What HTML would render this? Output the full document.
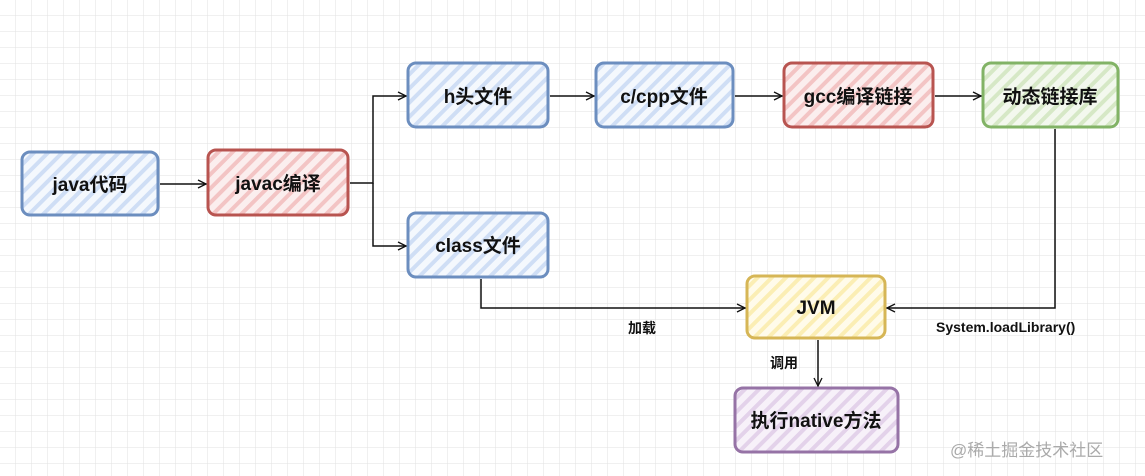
<!DOCTYPE html>
<html><head><meta charset="utf-8"><style>
html,body{margin:0;padding:0;background:#fff}
svg{display:block}
text{font-family:"Liberation Sans","Noto Sans CJK SC",sans-serif;font-weight:bold;fill:#111}
</style></head><body>
<svg width="1145" height="476" viewBox="0 0 1145 476" xmlns="http://www.w3.org/2000/svg">
<defs>
<pattern id="grid" width="16" height="16" patternUnits="userSpaceOnUse"><path d="M16 0V16H0" fill="none" stroke="#e2e2e2" stroke-width="1"/></pattern>
<pattern id="hb" width="10" height="10" patternUnits="userSpaceOnUse" patternTransform="rotate(45)"><rect width="10" height="10" fill="#f4f8fd"/><rect width="4" height="10" fill="#cfdef5"/></pattern>
<pattern id="hr" width="10" height="10" patternUnits="userSpaceOnUse" patternTransform="rotate(45)"><rect width="10" height="10" fill="#fbeeee"/><rect width="4" height="10" fill="#f3c4c4"/></pattern>
<pattern id="hg" width="10" height="10" patternUnits="userSpaceOnUse" patternTransform="rotate(45)"><rect width="10" height="10" fill="#f3f8ee"/><rect width="4" height="10" fill="#d6e8c6"/></pattern>
<pattern id="hy" width="10" height="10" patternUnits="userSpaceOnUse" patternTransform="rotate(45)"><rect width="10" height="10" fill="#fffbea"/><rect width="4" height="10" fill="#fbeeb4"/></pattern>
<pattern id="hp" width="10" height="10" patternUnits="userSpaceOnUse" patternTransform="rotate(45)"><rect width="10" height="10" fill="#f7f1f9"/><rect width="4" height="10" fill="#e3d2ea"/></pattern>
<marker id="ar" markerWidth="10" markerHeight="10" refX="9" refY="5" orient="auto" markerUnits="userSpaceOnUse"><path d="M1 1L9 5L1 9" fill="none" stroke="#111" stroke-width="1.3"/></marker>
</defs>
<rect width="1145" height="476" fill="url(#grid)"/>
<g stroke-width="3">
<rect x="22" y="152" width="136" height="63" rx="8" fill="url(#hb)" stroke="#6c8ebf"/>
<rect x="208" y="150" width="140" height="65" rx="8" fill="url(#hr)" stroke="#b85450"/>
<rect x="408" y="63" width="140" height="64" rx="8" fill="url(#hb)" stroke="#6c8ebf"/>
<rect x="596" y="63" width="137" height="64" rx="8" fill="url(#hb)" stroke="#6c8ebf"/>
<rect x="784" y="63" width="149" height="64" rx="8" fill="url(#hr)" stroke="#b85450"/>
<rect x="983" y="63" width="135" height="64" rx="8" fill="url(#hg)" stroke="#82b366"/>
<rect x="408" y="213" width="140" height="64" rx="8" fill="url(#hb)" stroke="#6c8ebf"/>
<rect x="747" y="276" width="138" height="62" rx="8" fill="url(#hy)" stroke="#d6b656"/>
<rect x="735" y="388" width="163" height="64" rx="8" fill="url(#hp)" stroke="#9673a6"/>
</g>
<g fill="none" stroke="#111" stroke-width="1.5">
<path d="M160 184H206" marker-end="url(#ar)"/>
<path d="M350 183H373V96H406" marker-end="url(#ar)"/>
<path d="M373 183V246H406" marker-end="url(#ar)"/>
<path d="M550 96H594" marker-end="url(#ar)"/>
<path d="M735 96H782" marker-end="url(#ar)"/>
<path d="M935 96H981" marker-end="url(#ar)"/>
<path d="M481 279V308H745" marker-end="url(#ar)"/>
<path d="M1055 129V308H887" marker-end="url(#ar)"/>
<path d="M818 340V386" marker-end="url(#ar)"/>
</g>
<g font-size="19" text-anchor="middle">
<text x="90" y="191">java代码</text>
<text x="278" y="190">javac编译</text>
<text x="478" y="103">h头文件</text>
<text x="664" y="103">c/cpp文件</text>
<text x="858" y="103">gcc编译链接</text>
<text x="1050" y="103">动态链接库</text>
<text x="478" y="252">class文件</text>
<text x="816" y="314">JVM</text>
<text x="816" y="427">执行native方法</text>
</g>
<g font-size="14">
<text x="628" y="333">加载</text>
<text x="936" y="332">System.loadLibrary()</text>
<text x="770" y="368">调用</text>
</g>
<text x="950" y="456" font-size="17" style="fill:#aaa;font-weight:normal">@稀土掘金技术社区</text>
</svg>
</body></html>
